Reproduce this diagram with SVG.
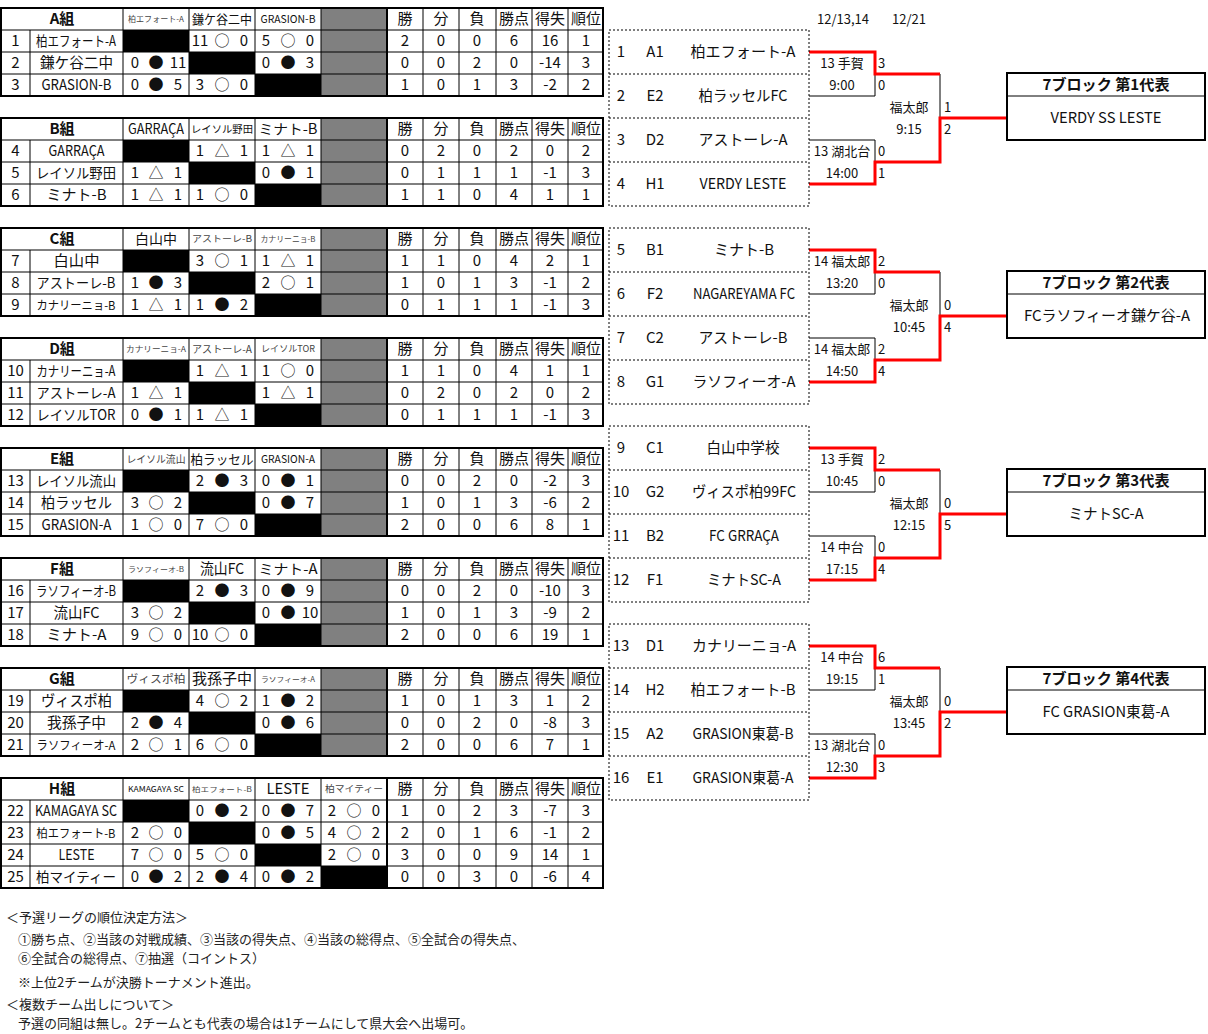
<svg xmlns="http://www.w3.org/2000/svg" width="1208" height="1034" viewBox="0 0 1208 1034">
<style>
text{font-family:"Noto Sans CJK JP","Noto Sans",sans-serif;fill:#111}
.m{text-anchor:middle}
.n{font-size:15px}
.h{font-size:15px}
.g{font-size:15px;font-weight:bold}
.s{fill:#444}
.thin{stroke:#000;stroke-width:1;fill:none}
.thick{stroke:#000;stroke-width:2;fill:none}
.blk{fill:#000}
.gry{fill:#808080}
.dot{stroke:#000;stroke-width:1;stroke-dasharray:2 2;fill:none}
.red{stroke:#f00;stroke-width:3;fill:none}
.lbl{font-size:13px}
.nt{font-size:13px;fill:#222}
.box{fill:#fff;stroke:#000;stroke-width:2}
</style>
<rect width="1208" height="1034" fill="#fff"/>

<!-- ===== Group A ===== -->
<g id="group-A">
<rect class="gry" x="321" y="8" width="66" height="88"/>
<rect class="blk" x="123" y="30" width="66" height="22"/>
<rect class="blk" x="189" y="52" width="66" height="22"/>
<rect class="blk" x="255" y="74" width="66" height="22"/>
<path class="thin" d="M1 30H603M1 52H603M1 74H603M30 30V96M123 8V96M189 8V96M255 8V96M321 8V96M423 8V96M459 8V96M496 8V96M532 8V96M568 8V96"/>
<path class="thick" d="M387 8V96"/>
<rect class="thick" x="1" y="8" width="602" height="88"/>
<text class="m g" x="62" y="24">A組</text>
<text class="m s" font-size="8" x="156" y="22" textLength="56" lengthAdjust="spacingAndGlyphs">柏エフォート-A</text>
<text class="m" font-size="13" x="222" y="24" textLength="60" lengthAdjust="spacingAndGlyphs">鎌ケ谷二中</text>
<text class="m" font-size="11" x="288" y="23" textLength="55" lengthAdjust="spacingAndGlyphs">GRASION-B</text>
<text class="m h" y="24"><tspan x="405">勝</tspan><tspan x="441">分</tspan><tspan x="477">負</tspan><tspan x="514">勝点</tspan><tspan x="550">得失</tspan><tspan x="586">順位</tspan></text>
<text class="m" font-size="14" x="76" y="46" textLength="80" lengthAdjust="spacingAndGlyphs">柏エフォート-A</text>
<text class="m" font-size="15" x="76.5" y="68" textLength="73" lengthAdjust="spacingAndGlyphs">鎌ケ谷二中</text>
<text class="m" font-size="15" x="76.5" y="90" textLength="70" lengthAdjust="spacingAndGlyphs">GRASION-B</text>
<text class="m n" y="46"><tspan x="15.5">1</tspan><tspan x="200">11</tspan><tspan x="222">○</tspan><tspan x="244">0</tspan><tspan x="266">5</tspan><tspan x="288">○</tspan><tspan x="310">0</tspan><tspan x="405">2</tspan><tspan x="441">0</tspan><tspan x="477">0</tspan><tspan x="514">6</tspan><tspan x="550">16</tspan><tspan x="586">1</tspan></text>
<text class="m n" y="68"><tspan x="15.5">2</tspan><tspan x="135">0</tspan><tspan x="156">●</tspan><tspan x="178">11</tspan><tspan x="266">0</tspan><tspan x="288">●</tspan><tspan x="310">3</tspan><tspan x="405">0</tspan><tspan x="441">0</tspan><tspan x="477">2</tspan><tspan x="514">0</tspan><tspan x="550">-14</tspan><tspan x="586">3</tspan></text>
<text class="m n" y="90"><tspan x="15.5">3</tspan><tspan x="135">0</tspan><tspan x="156">●</tspan><tspan x="178">5</tspan><tspan x="200">3</tspan><tspan x="222">○</tspan><tspan x="244">0</tspan><tspan x="405">1</tspan><tspan x="441">0</tspan><tspan x="477">1</tspan><tspan x="514">3</tspan><tspan x="550">-2</tspan><tspan x="586">2</tspan></text>
</g>

<!-- ===== Group B ===== -->
<g id="group-B">
<rect class="gry" x="321" y="118" width="66" height="88"/>
<rect class="blk" x="123" y="140" width="66" height="22"/>
<rect class="blk" x="189" y="162" width="66" height="22"/>
<rect class="blk" x="255" y="184" width="66" height="22"/>
<path class="thin" d="M1 140H603M1 162H603M1 184H603M30 140V206M123 118V206M189 118V206M255 118V206M321 118V206M423 118V206M459 118V206M496 118V206M532 118V206M568 118V206"/>
<path class="thick" d="M387 118V206"/>
<rect class="thick" x="1" y="118" width="602" height="88"/>
<text class="m g" x="62" y="134">B組</text>
<text class="m" font-size="14" x="156" y="134" textLength="56" lengthAdjust="spacingAndGlyphs">GARRAÇA</text>
<text class="m" font-size="10" x="222" y="132.5" textLength="62" lengthAdjust="spacingAndGlyphs">レイソル野田</text>
<text class="m" font-size="14" x="288" y="134" textLength="59" lengthAdjust="spacingAndGlyphs">ミナト-B</text>
<text class="m h" y="134"><tspan x="405">勝</tspan><tspan x="441">分</tspan><tspan x="477">負</tspan><tspan x="514">勝点</tspan><tspan x="550">得失</tspan><tspan x="586">順位</tspan></text>
<text class="m" font-size="15" x="76.5" y="156" textLength="56" lengthAdjust="spacingAndGlyphs">GARRAÇA</text>
<text class="m" font-size="14" x="76" y="178" textLength="80" lengthAdjust="spacingAndGlyphs">レイソル野田</text>
<text class="m" font-size="15" x="76.5" y="200" textLength="60" lengthAdjust="spacingAndGlyphs">ミナト-B</text>
<text class="m n" y="156"><tspan x="15.5">4</tspan><tspan x="200">1</tspan><tspan x="222">△</tspan><tspan x="244">1</tspan><tspan x="266">1</tspan><tspan x="288">△</tspan><tspan x="310">1</tspan><tspan x="405">0</tspan><tspan x="441">2</tspan><tspan x="477">0</tspan><tspan x="514">2</tspan><tspan x="550">0</tspan><tspan x="586">2</tspan></text>
<text class="m n" y="178"><tspan x="15.5">5</tspan><tspan x="135">1</tspan><tspan x="156">△</tspan><tspan x="178">1</tspan><tspan x="266">0</tspan><tspan x="288">●</tspan><tspan x="310">1</tspan><tspan x="405">0</tspan><tspan x="441">1</tspan><tspan x="477">1</tspan><tspan x="514">1</tspan><tspan x="550">-1</tspan><tspan x="586">3</tspan></text>
<text class="m n" y="200"><tspan x="15.5">6</tspan><tspan x="135">1</tspan><tspan x="156">△</tspan><tspan x="178">1</tspan><tspan x="200">1</tspan><tspan x="222">○</tspan><tspan x="244">0</tspan><tspan x="405">1</tspan><tspan x="441">1</tspan><tspan x="477">0</tspan><tspan x="514">4</tspan><tspan x="550">1</tspan><tspan x="586">1</tspan></text>
</g>

<!-- ===== Group C ===== -->
<g id="group-C">
<rect class="gry" x="321" y="228" width="66" height="88"/>
<rect class="blk" x="123" y="250" width="66" height="22"/>
<rect class="blk" x="189" y="272" width="66" height="22"/>
<rect class="blk" x="255" y="294" width="66" height="22"/>
<path class="thin" d="M1 250H603M1 272H603M1 294H603M30 250V316M123 228V316M189 228V316M255 228V316M321 228V316M423 228V316M459 228V316M496 228V316M532 228V316M568 228V316"/>
<path class="thick" d="M387 228V316"/>
<rect class="thick" x="1" y="228" width="602" height="88"/>
<text class="m g" x="62" y="244">C組</text>
<text class="m" font-size="14" x="156" y="244" textLength="42" lengthAdjust="spacingAndGlyphs">白山中</text>
<text class="m s" font-size="9" x="222" y="242" textLength="60" lengthAdjust="spacingAndGlyphs">アストーレ-B</text>
<text class="m s" font-size="8" x="288" y="242" textLength="55" lengthAdjust="spacingAndGlyphs">カナリーニョ-B</text>
<text class="m h" y="244"><tspan x="405">勝</tspan><tspan x="441">分</tspan><tspan x="477">負</tspan><tspan x="514">勝点</tspan><tspan x="550">得失</tspan><tspan x="586">順位</tspan></text>
<text class="m" font-size="15" x="76.5" y="266" textLength="46" lengthAdjust="spacingAndGlyphs">白山中</text>
<text class="m" font-size="14" x="76" y="288" textLength="79" lengthAdjust="spacingAndGlyphs">アストーレ-B</text>
<text class="m" font-size="12" x="76" y="309.5" textLength="79" lengthAdjust="spacingAndGlyphs">カナリーニョ-B</text>
<text class="m n" y="266"><tspan x="15.5">7</tspan><tspan x="200">3</tspan><tspan x="222">○</tspan><tspan x="244">1</tspan><tspan x="266">1</tspan><tspan x="288">△</tspan><tspan x="310">1</tspan><tspan x="405">1</tspan><tspan x="441">1</tspan><tspan x="477">0</tspan><tspan x="514">4</tspan><tspan x="550">2</tspan><tspan x="586">1</tspan></text>
<text class="m n" y="288"><tspan x="15.5">8</tspan><tspan x="135">1</tspan><tspan x="156">●</tspan><tspan x="178">3</tspan><tspan x="266">2</tspan><tspan x="288">○</tspan><tspan x="310">1</tspan><tspan x="405">1</tspan><tspan x="441">0</tspan><tspan x="477">1</tspan><tspan x="514">3</tspan><tspan x="550">-1</tspan><tspan x="586">2</tspan></text>
<text class="m n" y="310"><tspan x="15.5">9</tspan><tspan x="135">1</tspan><tspan x="156">△</tspan><tspan x="178">1</tspan><tspan x="200">1</tspan><tspan x="222">●</tspan><tspan x="244">2</tspan><tspan x="405">0</tspan><tspan x="441">1</tspan><tspan x="477">1</tspan><tspan x="514">1</tspan><tspan x="550">-1</tspan><tspan x="586">3</tspan></text>
</g>

<!-- ===== Group D ===== -->
<g id="group-D">
<rect class="gry" x="321" y="338" width="66" height="88"/>
<rect class="blk" x="123" y="360" width="66" height="22"/>
<rect class="blk" x="189" y="382" width="66" height="22"/>
<rect class="blk" x="255" y="404" width="66" height="22"/>
<path class="thin" d="M1 360H603M1 382H603M1 404H603M30 360V426M123 338V426M189 338V426M255 338V426M321 338V426M423 338V426M459 338V426M496 338V426M532 338V426M568 338V426"/>
<path class="thick" d="M387 338V426"/>
<rect class="thick" x="1" y="338" width="602" height="88"/>
<text class="m g" x="62" y="354">D組</text>
<text class="m s" font-size="8" x="156" y="352" textLength="60" lengthAdjust="spacingAndGlyphs">カナリーニョ-A</text>
<text class="m s" font-size="10" x="222" y="352.5" textLength="60" lengthAdjust="spacingAndGlyphs">アストーレ-A</text>
<text class="m s" font-size="9" x="288" y="352" textLength="54" lengthAdjust="spacingAndGlyphs">レイソルTOR</text>
<text class="m h" y="354"><tspan x="405">勝</tspan><tspan x="441">分</tspan><tspan x="477">負</tspan><tspan x="514">勝点</tspan><tspan x="550">得失</tspan><tspan x="586">順位</tspan></text>
<text class="m" font-size="14" x="76" y="376" textLength="79" lengthAdjust="spacingAndGlyphs">カナリーニョ-A</text>
<text class="m" font-size="14" x="76" y="398" textLength="79" lengthAdjust="spacingAndGlyphs">アストーレ-A</text>
<text class="m" font-size="14" x="76" y="420" textLength="79" lengthAdjust="spacingAndGlyphs">レイソルTOR</text>
<text class="m n" y="376"><tspan x="15.5">10</tspan><tspan x="200">1</tspan><tspan x="222">△</tspan><tspan x="244">1</tspan><tspan x="266">1</tspan><tspan x="288">○</tspan><tspan x="310">0</tspan><tspan x="405">1</tspan><tspan x="441">1</tspan><tspan x="477">0</tspan><tspan x="514">4</tspan><tspan x="550">1</tspan><tspan x="586">1</tspan></text>
<text class="m n" y="398"><tspan x="15.5">11</tspan><tspan x="135">1</tspan><tspan x="156">△</tspan><tspan x="178">1</tspan><tspan x="266">1</tspan><tspan x="288">△</tspan><tspan x="310">1</tspan><tspan x="405">0</tspan><tspan x="441">2</tspan><tspan x="477">0</tspan><tspan x="514">2</tspan><tspan x="550">0</tspan><tspan x="586">2</tspan></text>
<text class="m n" y="420"><tspan x="15.5">12</tspan><tspan x="135">0</tspan><tspan x="156">●</tspan><tspan x="178">1</tspan><tspan x="200">1</tspan><tspan x="222">△</tspan><tspan x="244">1</tspan><tspan x="405">0</tspan><tspan x="441">1</tspan><tspan x="477">1</tspan><tspan x="514">1</tspan><tspan x="550">-1</tspan><tspan x="586">3</tspan></text>
</g>

<!-- ===== Group E ===== -->
<g id="group-E">
<rect class="gry" x="321" y="448" width="66" height="88"/>
<rect class="blk" x="123" y="470" width="66" height="22"/>
<rect class="blk" x="189" y="492" width="66" height="22"/>
<rect class="blk" x="255" y="514" width="66" height="22"/>
<path class="thin" d="M1 470H603M1 492H603M1 514H603M30 470V536M123 448V536M189 448V536M255 448V536M321 448V536M423 448V536M459 448V536M496 448V536M532 448V536M568 448V536"/>
<path class="thick" d="M387 448V536"/>
<rect class="thick" x="1" y="448" width="602" height="88"/>
<text class="m g" x="62" y="464">E組</text>
<text class="m s" font-size="10" x="156" y="462.5" textLength="59" lengthAdjust="spacingAndGlyphs">レイソル流山</text>
<text class="m" font-size="13" x="222" y="463.5" textLength="63" lengthAdjust="spacingAndGlyphs">柏ラッセル</text>
<text class="m" font-size="11" x="288" y="463" textLength="54" lengthAdjust="spacingAndGlyphs">GRASION-A</text>
<text class="m h" y="464"><tspan x="405">勝</tspan><tspan x="441">分</tspan><tspan x="477">負</tspan><tspan x="514">勝点</tspan><tspan x="550">得失</tspan><tspan x="586">順位</tspan></text>
<text class="m" font-size="14" x="76" y="486" textLength="80" lengthAdjust="spacingAndGlyphs">レイソル流山</text>
<text class="m" font-size="15" x="76.5" y="508" textLength="71" lengthAdjust="spacingAndGlyphs">柏ラッセル</text>
<text class="m" font-size="15" x="76.5" y="530" textLength="70" lengthAdjust="spacingAndGlyphs">GRASION-A</text>
<text class="m n" y="486"><tspan x="15.5">13</tspan><tspan x="200">2</tspan><tspan x="222">●</tspan><tspan x="244">3</tspan><tspan x="266">0</tspan><tspan x="288">●</tspan><tspan x="310">1</tspan><tspan x="405">0</tspan><tspan x="441">0</tspan><tspan x="477">2</tspan><tspan x="514">0</tspan><tspan x="550">-2</tspan><tspan x="586">3</tspan></text>
<text class="m n" y="508"><tspan x="15.5">14</tspan><tspan x="135">3</tspan><tspan x="156">○</tspan><tspan x="178">2</tspan><tspan x="266">0</tspan><tspan x="288">●</tspan><tspan x="310">7</tspan><tspan x="405">1</tspan><tspan x="441">0</tspan><tspan x="477">1</tspan><tspan x="514">3</tspan><tspan x="550">-6</tspan><tspan x="586">2</tspan></text>
<text class="m n" y="530"><tspan x="15.5">15</tspan><tspan x="135">1</tspan><tspan x="156">○</tspan><tspan x="178">0</tspan><tspan x="200">7</tspan><tspan x="222">○</tspan><tspan x="244">0</tspan><tspan x="405">2</tspan><tspan x="441">0</tspan><tspan x="477">0</tspan><tspan x="514">6</tspan><tspan x="550">8</tspan><tspan x="586">1</tspan></text>
</g>

<!-- ===== Group F ===== -->
<g id="group-F">
<rect class="gry" x="321" y="558" width="66" height="88"/>
<rect class="blk" x="123" y="580" width="66" height="22"/>
<rect class="blk" x="189" y="602" width="66" height="22"/>
<rect class="blk" x="255" y="624" width="66" height="22"/>
<path class="thin" d="M1 580H603M1 602H603M1 624H603M30 580V646M123 558V646M189 558V646M255 558V646M321 558V646M423 558V646M459 558V646M496 558V646M532 558V646M568 558V646"/>
<path class="thick" d="M387 558V646"/>
<rect class="thick" x="1" y="558" width="602" height="88"/>
<text class="m g" x="62" y="574">F組</text>
<text class="m s" font-size="7" x="156" y="571.5" textLength="56" lengthAdjust="spacingAndGlyphs">ラソフィーオ-B</text>
<text class="m" font-size="15" x="222" y="574" textLength="44" lengthAdjust="spacingAndGlyphs">流山FC</text>
<text class="m" font-size="14" x="288" y="574" textLength="59" lengthAdjust="spacingAndGlyphs">ミナト-A</text>
<text class="m h" y="574"><tspan x="405">勝</tspan><tspan x="441">分</tspan><tspan x="477">負</tspan><tspan x="514">勝点</tspan><tspan x="550">得失</tspan><tspan x="586">順位</tspan></text>
<text class="m" font-size="14" x="76" y="596" textLength="80" lengthAdjust="spacingAndGlyphs">ラソフィーオ-B</text>
<text class="m" font-size="15" x="76.5" y="618" textLength="46" lengthAdjust="spacingAndGlyphs">流山FC</text>
<text class="m" font-size="15" x="76.5" y="640" textLength="60" lengthAdjust="spacingAndGlyphs">ミナト-A</text>
<text class="m n" y="596"><tspan x="15.5">16</tspan><tspan x="200">2</tspan><tspan x="222">●</tspan><tspan x="244">3</tspan><tspan x="266">0</tspan><tspan x="288">●</tspan><tspan x="310">9</tspan><tspan x="405">0</tspan><tspan x="441">0</tspan><tspan x="477">2</tspan><tspan x="514">0</tspan><tspan x="550">-10</tspan><tspan x="586">3</tspan></text>
<text class="m n" y="618"><tspan x="15.5">17</tspan><tspan x="135">3</tspan><tspan x="156">○</tspan><tspan x="178">2</tspan><tspan x="266">0</tspan><tspan x="288">●</tspan><tspan x="310">10</tspan><tspan x="405">1</tspan><tspan x="441">0</tspan><tspan x="477">1</tspan><tspan x="514">3</tspan><tspan x="550">-9</tspan><tspan x="586">2</tspan></text>
<text class="m n" y="640"><tspan x="15.5">18</tspan><tspan x="135">9</tspan><tspan x="156">○</tspan><tspan x="178">0</tspan><tspan x="200">10</tspan><tspan x="222">○</tspan><tspan x="244">0</tspan><tspan x="405">2</tspan><tspan x="441">0</tspan><tspan x="477">0</tspan><tspan x="514">6</tspan><tspan x="550">19</tspan><tspan x="586">1</tspan></text>
</g>

<!-- ===== Group G ===== -->
<g id="group-G">
<rect class="gry" x="321" y="668" width="66" height="88"/>
<rect class="blk" x="123" y="690" width="66" height="22"/>
<rect class="blk" x="189" y="712" width="66" height="22"/>
<rect class="blk" x="255" y="734" width="66" height="22"/>
<path class="thin" d="M1 690H603M1 712H603M1 734H603M30 690V756M123 668V756M189 668V756M255 668V756M321 668V756M423 668V756M459 668V756M496 668V756M532 668V756M568 668V756"/>
<path class="thick" d="M387 668V756"/>
<rect class="thick" x="1" y="668" width="602" height="88"/>
<text class="m g" x="62" y="684">G組</text>
<text class="m s" font-size="11" x="156" y="683" textLength="59" lengthAdjust="spacingAndGlyphs">ヴィスポ柏</text>
<text class="m" font-size="15" x="222" y="684" textLength="60" lengthAdjust="spacingAndGlyphs">我孫子中</text>
<text class="m s" font-size="7" x="288" y="681.5" textLength="54" lengthAdjust="spacingAndGlyphs">ラソフィーオ-A</text>
<text class="m h" y="684"><tspan x="405">勝</tspan><tspan x="441">分</tspan><tspan x="477">負</tspan><tspan x="514">勝点</tspan><tspan x="550">得失</tspan><tspan x="586">順位</tspan></text>
<text class="m" font-size="15" x="76.5" y="706" textLength="71" lengthAdjust="spacingAndGlyphs">ヴィスポ柏</text>
<text class="m" font-size="15" x="76.5" y="728" textLength="59" lengthAdjust="spacingAndGlyphs">我孫子中</text>
<text class="m" font-size="12" x="76" y="749.5" textLength="79" lengthAdjust="spacingAndGlyphs">ラソフィーオ-A</text>
<text class="m n" y="706"><tspan x="15.5">19</tspan><tspan x="200">4</tspan><tspan x="222">○</tspan><tspan x="244">2</tspan><tspan x="266">1</tspan><tspan x="288">●</tspan><tspan x="310">2</tspan><tspan x="405">1</tspan><tspan x="441">0</tspan><tspan x="477">1</tspan><tspan x="514">3</tspan><tspan x="550">1</tspan><tspan x="586">2</tspan></text>
<text class="m n" y="728"><tspan x="15.5">20</tspan><tspan x="135">2</tspan><tspan x="156">●</tspan><tspan x="178">4</tspan><tspan x="266">0</tspan><tspan x="288">●</tspan><tspan x="310">6</tspan><tspan x="405">0</tspan><tspan x="441">0</tspan><tspan x="477">2</tspan><tspan x="514">0</tspan><tspan x="550">-8</tspan><tspan x="586">3</tspan></text>
<text class="m n" y="750"><tspan x="15.5">21</tspan><tspan x="135">2</tspan><tspan x="156">○</tspan><tspan x="178">1</tspan><tspan x="200">6</tspan><tspan x="222">○</tspan><tspan x="244">0</tspan><tspan x="405">2</tspan><tspan x="441">0</tspan><tspan x="477">0</tspan><tspan x="514">6</tspan><tspan x="550">7</tspan><tspan x="586">1</tspan></text>
</g>

<!-- ===== Group H ===== -->
<g id="group-H">
<rect class="blk" x="123" y="800" width="66" height="22"/>
<rect class="blk" x="189" y="822" width="66" height="22"/>
<rect class="blk" x="255" y="844" width="66" height="22"/>
<rect class="blk" x="321" y="866" width="66" height="22"/>
<path class="thin" d="M1 800H603M1 822H603M1 844H603M1 866H603M30 800V888M123 778V888M189 778V888M255 778V888M321 778V888M423 778V888M459 778V888M496 778V888M532 778V888M568 778V888"/>
<path class="thick" d="M387 778V888"/>
<rect class="thick" x="1" y="778" width="602" height="110"/>
<text class="m g" x="62" y="794">H組</text>
<text class="m" font-size="8" x="156" y="792" textLength="56" lengthAdjust="spacingAndGlyphs">KAMAGAYA SC</text>
<text class="m s" font-size="7" x="222" y="791.5" textLength="60" lengthAdjust="spacingAndGlyphs">柏エフォート-B</text>
<text class="m" font-size="15" x="288" y="794" textLength="43" lengthAdjust="spacingAndGlyphs">LESTE</text>
<text class="m s" font-size="9" x="354" y="792" textLength="58" lengthAdjust="spacingAndGlyphs">柏マイティー</text>
<text class="m h" y="794"><tspan x="405">勝</tspan><tspan x="441">分</tspan><tspan x="477">負</tspan><tspan x="514">勝点</tspan><tspan x="550">得失</tspan><tspan x="586">順位</tspan></text>
<text class="m" font-size="15" x="76" y="816" textLength="82" lengthAdjust="spacingAndGlyphs">KAMAGAYA SC</text>
<text class="m" font-size="12" x="76" y="837.5" textLength="79" lengthAdjust="spacingAndGlyphs">柏エフォート-B</text>
<text class="m" font-size="15" x="76.5" y="860" textLength="36" lengthAdjust="spacingAndGlyphs">LESTE</text>
<text class="m" font-size="14" x="76" y="882" textLength="80" lengthAdjust="spacingAndGlyphs">柏マイティー</text>
<text class="m n" y="816"><tspan x="15.5">22</tspan><tspan x="200">0</tspan><tspan x="222">●</tspan><tspan x="244">2</tspan><tspan x="266">0</tspan><tspan x="288">●</tspan><tspan x="310">7</tspan><tspan x="332">2</tspan><tspan x="354">○</tspan><tspan x="376">0</tspan><tspan x="405">1</tspan><tspan x="441">0</tspan><tspan x="477">2</tspan><tspan x="514">3</tspan><tspan x="550">-7</tspan><tspan x="586">3</tspan></text>
<text class="m n" y="838"><tspan x="15.5">23</tspan><tspan x="135">2</tspan><tspan x="156">○</tspan><tspan x="178">0</tspan><tspan x="266">0</tspan><tspan x="288">●</tspan><tspan x="310">5</tspan><tspan x="332">4</tspan><tspan x="354">○</tspan><tspan x="376">2</tspan><tspan x="405">2</tspan><tspan x="441">0</tspan><tspan x="477">1</tspan><tspan x="514">6</tspan><tspan x="550">-1</tspan><tspan x="586">2</tspan></text>
<text class="m n" y="860"><tspan x="15.5">24</tspan><tspan x="135">7</tspan><tspan x="156">○</tspan><tspan x="178">0</tspan><tspan x="200">5</tspan><tspan x="222">○</tspan><tspan x="244">0</tspan><tspan x="332">2</tspan><tspan x="354">○</tspan><tspan x="376">0</tspan><tspan x="405">3</tspan><tspan x="441">0</tspan><tspan x="477">0</tspan><tspan x="514">9</tspan><tspan x="550">14</tspan><tspan x="586">1</tspan></text>
<text class="m n" y="882"><tspan x="15.5">25</tspan><tspan x="135">0</tspan><tspan x="156">●</tspan><tspan x="178">2</tspan><tspan x="200">2</tspan><tspan x="222">●</tspan><tspan x="244">4</tspan><tspan x="266">0</tspan><tspan x="288">●</tspan><tspan x="310">2</tspan><tspan x="405">0</tspan><tspan x="441">0</tspan><tspan x="477">3</tspan><tspan x="514">0</tspan><tspan x="550">-6</tspan><tspan x="586">4</tspan></text>
</g>

<!-- ===== Tournament: dates ===== -->
<g id="dates">
<text class="m lbl" x="843" y="24">12/13,14</text>
<text class="m lbl" x="909" y="24">12/21</text>
</g>

<!-- ===== Connectors ===== -->
<g id="connectors">
<path class="thin" d="M809 96H875V74M809 140H875V162M940 74V118"/>
<path class="thin" d="M809 294H875V272M809 338H875V360M940 272V316"/>
<path class="thin" d="M809 492H875V470M809 536H875V558M940 470V514"/>
<path class="thin" d="M809 690H875V668M809 734H875V756M940 668V712"/>
<path class="red" d="M809 52H875V74H940M809 184H875V162H940V118H1007"/>
<path class="red" d="M809 250H875V272H940M809 382H875V360H940V316H1007"/>
<path class="red" d="M809 448H875V470H940M809 580H875V558H940V514H1007"/>
<path class="red" d="M809 646H875V668H940M809 778H875V756H940V712H1007"/>
</g>

<!-- ===== Entries block 1 ===== -->
<g id="entries-1">
<rect class="dot" x="609" y="30" width="200" height="176"/>
<path class="dot" d="M609 74H809M609 118H809M609 162H809"/>
</g>
<g id="entry-1"><text class="m n" y="57"><tspan x="621">1</tspan><tspan x="655">A1</tspan></text><text class="m n" x="743" y="57" textLength="105" lengthAdjust="spacingAndGlyphs">柏エフォート-A</text></g>
<g id="entry-2"><text class="m n" y="101"><tspan x="621">2</tspan><tspan x="655">E2</tspan></text><text class="m n" x="743" y="101" textLength="89" lengthAdjust="spacingAndGlyphs">柏ラッセルFC</text></g>
<g id="entry-3"><text class="m n" y="145"><tspan x="621">3</tspan><tspan x="655">D2</tspan></text><text class="m n" x="743" y="145" textLength="89" lengthAdjust="spacingAndGlyphs">アストーレ-A</text></g>
<g id="entry-4"><text class="m n" y="189"><tspan x="621">4</tspan><tspan x="655">H1</tspan></text><text class="m n" x="743" y="189" textLength="87" lengthAdjust="spacingAndGlyphs">VERDY LESTE</text></g>

<!-- ===== Entries block 2 ===== -->
<g id="entries-2">
<rect class="dot" x="609" y="228" width="200" height="176"/>
<path class="dot" d="M609 272H809M609 316H809M609 360H809"/>
</g>
<g id="entry-5"><text class="m n" y="255"><tspan x="621">5</tspan><tspan x="655">B1</tspan></text><text class="m n" x="744" y="255">ミナト-B</text></g>
<g id="entry-6"><text class="m n" y="299"><tspan x="621">6</tspan><tspan x="655">F2</tspan></text><text class="m n" x="744" y="299" textLength="102" lengthAdjust="spacingAndGlyphs">NAGAREYAMA FC</text></g>
<g id="entry-7"><text class="m n" y="343"><tspan x="621">7</tspan><tspan x="655">C2</tspan></text><text class="m n" x="743" y="343" textLength="89" lengthAdjust="spacingAndGlyphs">アストーレ-B</text></g>
<g id="entry-8"><text class="m n" y="387"><tspan x="621">8</tspan><tspan x="655">G1</tspan></text><text class="m n" x="744" y="387" textLength="103" lengthAdjust="spacingAndGlyphs">ラソフィーオ-A</text></g>

<!-- ===== Entries block 3 ===== -->
<g id="entries-3">
<rect class="dot" x="609" y="426" width="200" height="176"/>
<path class="dot" d="M609 470H809M609 514H809M609 558H809"/>
</g>
<g id="entry-9"><text class="m n" y="453"><tspan x="621">9</tspan><tspan x="655">C1</tspan></text><text class="m n" x="743" y="453" textLength="73" lengthAdjust="spacingAndGlyphs">白山中学校</text></g>
<g id="entry-10"><text class="m n" y="497"><tspan x="621">10</tspan><tspan x="655">G2</tspan></text><text class="m n" x="744" y="497" textLength="104" lengthAdjust="spacingAndGlyphs">ヴィスポ柏99FC</text></g>
<g id="entry-11"><text class="m n" y="541"><tspan x="621">11</tspan><tspan x="655">B2</tspan></text><text class="m n" x="744" y="541" textLength="70" lengthAdjust="spacingAndGlyphs">FC GRRAÇA</text></g>
<g id="entry-12"><text class="m n" y="585"><tspan x="621">12</tspan><tspan x="655">F1</tspan></text><text class="m n" x="744" y="585" textLength="74" lengthAdjust="spacingAndGlyphs">ミナトSC-A</text></g>

<!-- ===== Entries block 4 ===== -->
<g id="entries-4">
<rect class="dot" x="609" y="624" width="200" height="176"/>
<path class="dot" d="M609 668H809M609 712H809M609 756H809"/>
</g>
<g id="entry-13"><text class="m n" y="651"><tspan x="621">13</tspan><tspan x="655">D1</tspan></text><text class="m n" x="744" y="651" textLength="104" lengthAdjust="spacingAndGlyphs">カナリーニョ-A</text></g>
<g id="entry-14"><text class="m n" y="695"><tspan x="621">14</tspan><tspan x="655">H2</tspan></text><text class="m n" x="743" y="695" textLength="105" lengthAdjust="spacingAndGlyphs">柏エフォート-B</text></g>
<g id="entry-15"><text class="m n" y="739"><tspan x="621">15</tspan><tspan x="655">A2</tspan></text><text class="m n" x="743" y="739" textLength="101" lengthAdjust="spacingAndGlyphs">GRASION東葛-B</text></g>
<g id="entry-16"><text class="m n" y="783"><tspan x="621">16</tspan><tspan x="655">E1</tspan></text><text class="m n" x="743" y="783" textLength="101" lengthAdjust="spacingAndGlyphs">GRASION東葛-A</text></g>

<!-- ===== Match labels ===== -->
<g id="match-1"><text class="m lbl" x="842" y="68">13 手賀</text><text class="m lbl" x="842" y="90">9:00</text><text class="lbl" x="878" y="68">3</text><text class="lbl" x="878" y="90">0</text></g>
<g id="match-2"><text class="m lbl" x="842" y="156">13 湖北台</text><text class="m lbl" x="842" y="178">14:00</text><text class="lbl" x="878" y="156">0</text><text class="lbl" x="878" y="178">1</text></g>
<g id="match-3"><text class="m lbl" x="909" y="112">福太郎</text><text class="m lbl" x="909" y="134">9:15</text><text class="lbl" x="944" y="112">1</text><text class="lbl" x="944" y="134">2</text></g>

<g id="match-4"><text class="m lbl" x="842" y="266">14 福太郎</text><text class="m lbl" x="842" y="288">13:20</text><text class="lbl" x="878" y="266">2</text><text class="lbl" x="878" y="288">0</text></g>
<g id="match-5"><text class="m lbl" x="842" y="354">14 福太郎</text><text class="m lbl" x="842" y="376">14:50</text><text class="lbl" x="878" y="354">2</text><text class="lbl" x="878" y="376">4</text></g>
<g id="match-6"><text class="m lbl" x="909" y="310">福太郎</text><text class="m lbl" x="909" y="332">10:45</text><text class="lbl" x="944" y="310">0</text><text class="lbl" x="944" y="332">4</text></g>

<g id="match-7"><text class="m lbl" x="842" y="464">13 手賀</text><text class="m lbl" x="842" y="486">10:45</text><text class="lbl" x="878" y="464">2</text><text class="lbl" x="878" y="486">0</text></g>
<g id="match-8"><text class="m lbl" x="842" y="552">14 中台</text><text class="m lbl" x="842" y="574">17:15</text><text class="lbl" x="878" y="552">0</text><text class="lbl" x="878" y="574">4</text></g>
<g id="match-9"><text class="m lbl" x="909" y="508">福太郎</text><text class="m lbl" x="909" y="530">12:15</text><text class="lbl" x="944" y="508">0</text><text class="lbl" x="944" y="530">5</text></g>

<g id="match-10"><text class="m lbl" x="842" y="662">14 中台</text><text class="m lbl" x="842" y="684">19:15</text><text class="lbl" x="878" y="662">6</text><text class="lbl" x="878" y="684">1</text></g>
<g id="match-11"><text class="m lbl" x="842" y="750">13 湖北台</text><text class="m lbl" x="842" y="772">12:30</text><text class="lbl" x="878" y="750">0</text><text class="lbl" x="878" y="772">3</text></g>
<g id="match-12"><text class="m lbl" x="909" y="706">福太郎</text><text class="m lbl" x="909" y="728">13:45</text><text class="lbl" x="944" y="706">0</text><text class="lbl" x="944" y="728">2</text></g>

<!-- ===== Result boxes ===== -->
<g id="result-1">
<rect class="box" x="1007" y="73" width="198" height="67"/>
<path class="thin" d="M1007 96H1205"/>
<text class="m g" x="1106" y="90" textLength="127" lengthAdjust="spacingAndGlyphs">7ブロック 第1代表</text>
<text class="m n" x="1106" y="123" textLength="111" lengthAdjust="spacingAndGlyphs">VERDY SS LESTE</text>
</g>
<g id="result-2">
<rect class="box" x="1007" y="271" width="198" height="67"/>
<path class="thin" d="M1007 294H1205"/>
<text class="m g" x="1106" y="288" textLength="127" lengthAdjust="spacingAndGlyphs">7ブロック 第2代表</text>
<text class="m n" x="1107" y="321" textLength="166" lengthAdjust="spacingAndGlyphs">FCラソフィーオ鎌ケ谷-A</text>
</g>
<g id="result-3">
<rect class="box" x="1007" y="469" width="198" height="67"/>
<path class="thin" d="M1007 492H1205"/>
<text class="m g" x="1106" y="486" textLength="127" lengthAdjust="spacingAndGlyphs">7ブロック 第3代表</text>
<text class="m n" x="1106" y="519" textLength="75" lengthAdjust="spacingAndGlyphs">ミナトSC-A</text>
</g>
<g id="result-4">
<rect class="box" x="1007" y="667" width="198" height="67"/>
<path class="thin" d="M1007 690H1205"/>
<text class="m g" x="1106" y="684" textLength="127" lengthAdjust="spacingAndGlyphs">7ブロック 第4代表</text>
<text class="m n" x="1106" y="717" textLength="127" lengthAdjust="spacingAndGlyphs">FC GRASION東葛-A</text>
</g>

<!-- ===== Notes ===== -->
<g id="notes">
<text class="nt" x="6" y="922">＜予選リーグの順位決定方法＞</text>
<text class="nt" x="18" y="944">①勝ち点、②当該の対戦成績、③当該の得失点、④当該の総得点、⑤全試合の得失点、</text>
<text class="nt" x="18" y="963">⑥全試合の総得点、⑦抽選（コイントス）</text>
<text class="nt" x="18" y="987">※上位2チームが決勝トーナメント進出。</text>
<text class="nt" x="6" y="1009">＜複数チーム出しについて＞</text>
<text class="nt" x="18" y="1028">予選の同組は無し。2チームとも代表の場合は1チームにして県大会へ出場可。</text>
</g>
</svg>
